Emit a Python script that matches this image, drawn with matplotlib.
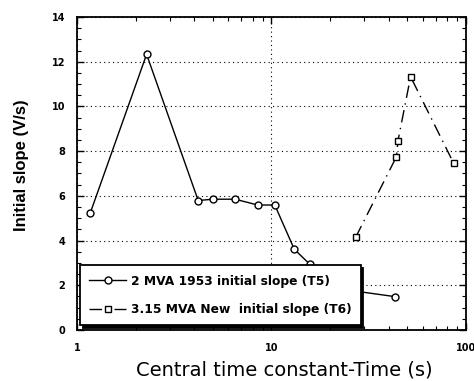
import matplotlib
matplotlib.use("Agg")
import matplotlib.pyplot as plt
from matplotlib.ticker import MultipleLocator, LogLocator, NullFormatter, FixedLocator, FixedFormatter

# 2 MVA 1953 transformer (T5)
t5_time = [1.17, 2.28, 4.2, 5.0, 6.5, 8.5, 10.4, 13.1, 15.7, 24.0, 43.3]
t5_slope = [5.23, 12.33, 5.79, 5.85, 5.85, 5.59, 5.59, 3.61, 2.95, 1.8, 1.49]

# 3.15 MVA new transformer (T6)
t6_time = [27.1, 43.9, 44.7, 51.9, 86.4]
t6_slope = [4.15, 7.75, 8.46, 11.33, 7.46]

labels = ["2 MVA 1953 initial slope (T5)", "3.15 MVA New  initial slope (T6)"]
xticks = [1, 10, 100]
xticklabels = ["1", "10", "100"]

plt.rcParams['font.family'] = ['DejaVu Sans']

fig = plt.figure(figsize=(4.74, 3.81), dpi=100)
ax = fig.add_axes([0.1624, 0.1339, 0.8207, 0.8215])

ax.plot(t5_time, t5_slope, color='black', linewidth=1.0, marker='o', markersize=5,
        markerfacecolor='white', markeredgecolor='black', markeredgewidth=1.0,
        label=labels[0], zorder=3)
ax.plot(t6_time, t6_slope, color='black', linewidth=1.0, linestyle=(0, (9, 4, 1, 4)),
        marker='s', markersize=4.8, markerfacecolor='white', markeredgecolor='black',
        markeredgewidth=1.0, label=labels[1], zorder=3)

ax.set_xscale('log')
ax.set_xlim(1, 100)
ax.set_ylim(0, 14)

ax.xaxis.set_major_locator(FixedLocator(xticks))
ax.xaxis.set_major_formatter(FixedFormatter(xticklabels))
ax.xaxis.set_minor_locator(LogLocator(base=10, subs=range(2, 10)))
ax.xaxis.set_minor_formatter(NullFormatter())
ax.yaxis.set_major_locator(MultipleLocator(2))
ax.yaxis.set_minor_locator(MultipleLocator(0.5))

ax.tick_params(which='both', direction='in', top=True, right=True)
ax.tick_params(which='major', length=5, width=1.0, labelsize=7)
ax.tick_params(axis='y', which='major', pad=8.5)
ax.tick_params(axis='x', which='major', pad=9.5)
ax.tick_params(which='minor', length=3, width=0.8)
for lab in ax.get_xticklabels() + ax.get_yticklabels():
    lab.set_fontweight('bold')

for s in ax.spines.values():
    s.set_linewidth(1.3)

# dotted grid at the major lines only
ax.grid(True, which='major', axis='both', linestyle=(0, (1, 3)), color='black', linewidth=0.8)

ax.set_xlabel("Central time constant-Time (s)", fontsize=14, labelpad=5)
ax.set_ylabel("Initial slope (V/s)", fontsize=12, fontweight='bold', labelpad=16,
              family='Liberation Sans')
ax.xaxis.label.set_x(0.533)
ax.yaxis.label.set_y(0.527)

leg = ax.legend(loc='lower left', bbox_to_anchor=(0.008, 0.016), fancybox=False,
                shadow={'color': 'black', 'alpha': 1.0}, framealpha=1.0,
                edgecolor='black', prop={'weight': 'bold', 'size': 8.8},
                handlelength=3.0, handletextpad=0.4, labelspacing=1.25,
                borderpad=0.75, borderaxespad=0)
leg.get_frame().set_linewidth(1.3)
leg.set_zorder(5)

fig.savefig("out.png", dpi=100)
